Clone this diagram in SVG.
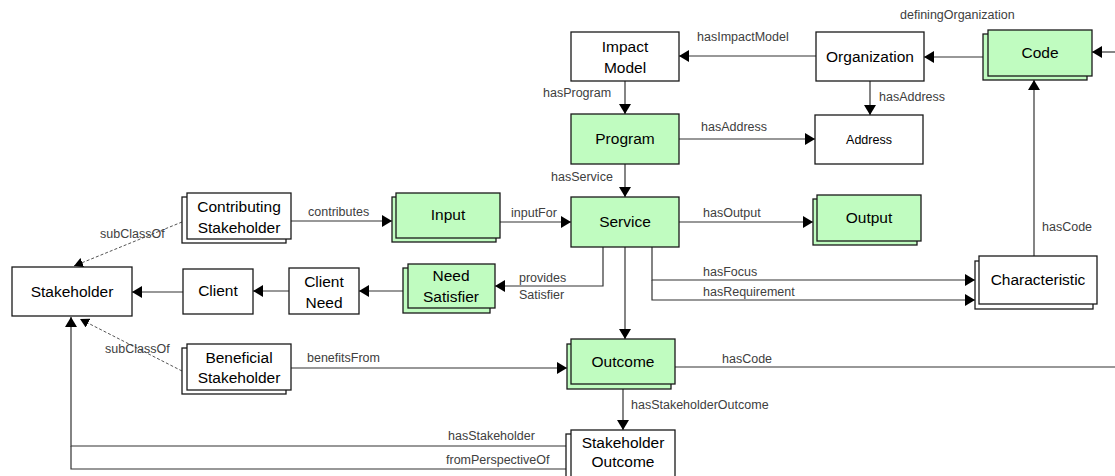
<svg xmlns="http://www.w3.org/2000/svg" width="1115" height="476" viewBox="0 0 1115 476">
<style>
.w{fill:#ffffff;stroke:#1a1a1a;stroke-width:1.3}
.g{fill:#c0fcc0;stroke:#1a1a1a;stroke-width:1.3}
.t{font-family:"Liberation Sans",Arial,sans-serif;font-size:15.5px;fill:#000;text-anchor:middle}
.ts{font-family:"Liberation Sans",Arial,sans-serif;font-size:12.5px;fill:#000;text-anchor:middle}
.e{font-family:"Liberation Sans",Arial,sans-serif;font-size:12.5px;fill:#404040}
.c{fill:none;stroke:#333;stroke-width:1.2}
.a{marker-end:url(#arr)}
.d{fill:none;stroke:#555;stroke-width:1;stroke-dasharray:3,2;marker-end:url(#arrs)}
</style>
<defs>
<marker id="arr" viewBox="0 0 10 12" refX="10" refY="6" markerWidth="10" markerHeight="12" markerUnits="userSpaceOnUse" orient="auto">
<path d="M0,0 L10,6 L0,12 z" fill="#000"/>
</marker>
<marker id="arrs" viewBox="0 0 9 10" refX="9" refY="5" markerWidth="9" markerHeight="10" markerUnits="userSpaceOnUse" orient="auto">
<path d="M0,0 L9,5 L0,10 z" fill="#000"/>
</marker>
</defs>
<rect width="1115" height="476" fill="#fff"/>

<g id="connectors">
<path class="c a" d="M816,56 H679"/>
<path class="c a" d="M983,57 H924"/>
<path class="c a" d="M1115,52 H1092"/>
<path class="c a" d="M625,81 V114"/>
<path class="c a" d="M870,81 V115"/>
<path class="c a" d="M679,139 H815"/>
<path class="c a" d="M625,164 V197"/>
<path class="c a" d="M679,222 H813"/>
<path class="c a" d="M500,222 H571"/>
<path class="c a" d="M291,221 H392"/>
<path class="c a" d="M603,247 V286 H495"/>
<path class="c a" d="M403,291 H359"/>
<path class="c a" d="M289,291 H253"/>
<path class="c a" d="M183,292 H132"/>
<path class="c a" d="M625,247 V339"/>
<path class="c a" d="M652,247 V280 H975"/>
<path class="c a" d="M652,280 V300 H975"/>
<path class="c a" d="M1034,256 V80"/>
<path class="c" d="M675,367 H1115"/>
<path class="c a" d="M291,368 H567"/>
<path class="c a" d="M623,389 V430"/>
<path class="c a" d="M566,446 H71 V317"/>
<path class="c" d="M566,469 H71 V446"/>
<path class="d" d="M182,222 L74,266"/>
<path class="d" d="M182,371 L80,319"/>
<text class="e" x="900" y="19">definingOrganization</text>
<text class="e" x="697" y="41">hasImpactModel</text>
<text class="e" x="543" y="97">hasProgram</text>
<text class="e" x="879" y="101">hasAddress</text>
<text class="e" x="701" y="131">hasAddress</text>
<text class="e" x="551" y="181">hasService</text>
<text class="e" x="703" y="217">hasOutput</text>
<text class="e" x="511" y="217">inputFor</text>
<text class="e" x="308" y="216">contributes</text>
<text class="e" x="519" y="282">provides</text>
<text class="e" x="519" y="299">Satisfier</text>
<text class="e" x="703" y="276">hasFocus</text>
<text class="e" x="703" y="296">hasRequirement</text>
<text class="e" x="1042" y="231">hasCode</text>
<text class="e" x="722" y="363">hasCode</text>
<text class="e" x="100" y="238">subClassOf</text>
<text class="e" x="105" y="353">subClassOf</text>
<text class="e" x="307" y="362">benefitsFrom</text>
<text class="e" x="631" y="409">hasStakeholderOutcome</text>
<text class="e" x="448" y="440">hasStakeholder</text>
<text class="e" x="446" y="464">fromPerspectiveOf</text>
</g>

<g id="impactModel">
<rect class="w" x="571" y="32" width="108" height="49"/>
<text class="t" x="625" y="52">Impact</text>
<text class="t" x="625" y="73">Model</text>
</g>
<g id="organization">
<rect class="w" x="816" y="32" width="108" height="49"/>
<text class="t" x="870" y="62">Organization</text>
</g>
<g id="code">
<rect class="g" x="983" y="34" width="104" height="46"/>
<rect class="g" x="988" y="30" width="104" height="46"/>
<text class="t" x="1040" y="58">Code</text>
</g>
<g id="program">
<rect class="g" x="571" y="114" width="108" height="50"/>
<text class="t" x="625" y="144">Program</text>
</g>
<g id="address">
<rect class="w" x="815" y="115" width="108" height="49"/>
<text class="ts" x="869" y="144">Address</text>
</g>
<g id="service">
<rect class="g" x="571" y="197" width="108" height="50"/>
<text class="t" x="625" y="227">Service</text>
</g>
<g id="output">
<rect class="g" x="813" y="199" width="104" height="46"/>
<rect class="g" x="817" y="195" width="104" height="46"/>
<text class="t" x="869" y="223">Output</text>
</g>
<g id="input">
<rect class="g" x="392" y="197" width="104" height="45"/>
<rect class="g" x="396" y="193" width="104" height="45"/>
<text class="t" x="448" y="220">Input</text>
</g>
<g id="contributingStakeholder">
<rect class="w" x="182" y="197" width="104" height="46"/>
<rect class="w" x="187" y="193" width="104" height="46"/>
<text class="t" x="239" y="212">Contributing</text>
<text class="t" x="239" y="233">Stakeholder</text>
</g>
<g id="needSatisfier">
<rect class="g" x="403" y="268" width="87" height="45"/>
<rect class="g" x="408" y="264" width="87" height="44"/>
<text class="t" x="451" y="281">Need</text>
<text class="t" x="451" y="302">Satisfier</text>
</g>
<g id="clientNeed">
<rect class="w" x="289" y="268" width="70" height="46"/>
<text class="t" x="324" y="287">Client</text>
<text class="t" x="324" y="308">Need</text>
</g>
<g id="client">
<rect class="w" x="183" y="269" width="70" height="45"/>
<text class="t" x="218" y="296">Client</text>
</g>
<g id="stakeholder">
<rect class="w" x="12" y="267" width="120" height="49"/>
<text class="t" x="72" y="297">Stakeholder</text>
</g>
<g id="characteristic">
<rect class="w" x="975" y="261" width="118" height="48"/>
<rect class="w" x="979" y="256" width="118" height="48"/>
<text class="t" x="1038" y="285">Characteristic</text>
</g>
<g id="beneficialStakeholder">
<rect class="w" x="182" y="348" width="104" height="46"/>
<rect class="w" x="187" y="344" width="104" height="46"/>
<text class="t" x="239" y="363">Beneficial</text>
<text class="t" x="239" y="383">Stakeholder</text>
</g>
<g id="outcome">
<rect class="g" x="567" y="344" width="104" height="45"/>
<rect class="g" x="571" y="339" width="104" height="45"/>
<text class="t" x="623" y="367">Outcome</text>
</g>
<g id="stakeholderOutcome">
<rect class="w" x="566" y="434" width="104" height="50"/>
<rect class="w" x="571" y="430" width="104" height="50"/>
<text class="t" x="623" y="448">Stakeholder</text>
<text class="t" x="623" y="467">Outcome</text>
</g>
</svg>
